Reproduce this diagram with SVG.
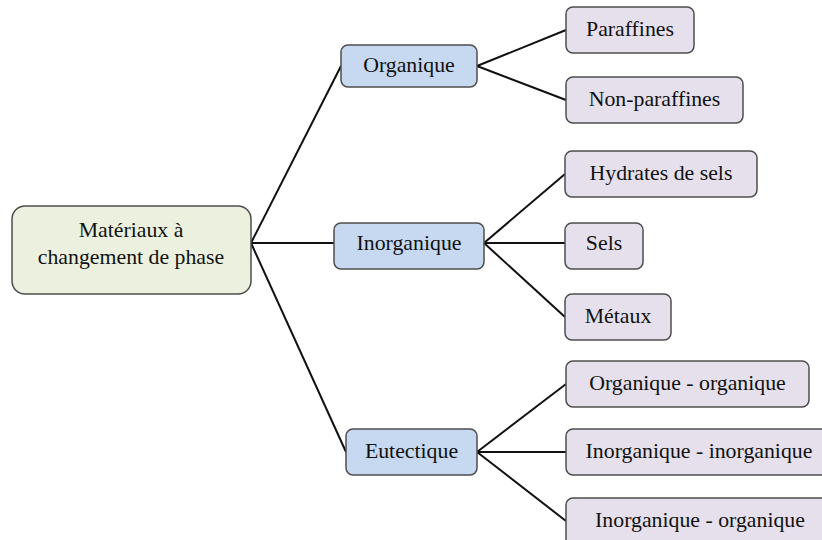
<svg xmlns="http://www.w3.org/2000/svg" width="822" height="540" viewBox="0 0 822 540">
  <style>
    .box { stroke: #4d4d4d; stroke-width: 1.5; }
    .root { fill: #ebf1de; }
    .cat { fill: #c6d9f1; }
    .leaf { fill: #e5e0ec; }
    .lbl { font-family: 'Liberation Serif', 'DejaVu Serif', serif; font-size: 21.8px; fill: #111; text-anchor: middle; }
    .links line { stroke: #111; stroke-width: 2; }
  </style>

  <!-- connectors -->
  <g class="links">
    <line x1="251" y1="243" x2="341" y2="66"/>
    <line x1="251" y1="243" x2="334" y2="243"/>
    <line x1="251" y1="243" x2="346" y2="452"/>
    <line x1="477" y1="66" x2="566" y2="30"/>
    <line x1="477" y1="66" x2="566" y2="100"/>
    <line x1="484" y1="243" x2="565" y2="174"/>
    <line x1="484" y1="243" x2="565" y2="243"/>
    <line x1="484" y1="243" x2="565" y2="317"/>
    <line x1="477" y1="452" x2="566" y2="384"/>
    <line x1="477" y1="452" x2="566" y2="452"/>
    <line x1="477" y1="452" x2="566" y2="521"/>
  </g>

  <g class="lbl" font-family="Liberation Serif, DejaVu Serif, serif">
    <!-- root -->
    <g id="materiaux">
      <rect class="box root" x="12" y="206" width="239" height="88" rx="13"/>
      <text x="131" y="237">Matériaux à</text>
      <text x="131" y="264">changement de phase</text>
    </g>

    <!-- categories -->
    <g id="organique">
      <rect class="box cat" x="341" y="45" width="136" height="42" rx="7"/>
      <text x="409" y="72">Organique</text>
    </g>
    <g id="inorganique">
      <rect class="box cat" x="334" y="223" width="150" height="46" rx="7"/>
      <text x="409" y="250">Inorganique</text>
    </g>
    <g id="eutectique">
      <rect class="box cat" x="346" y="429" width="131" height="46" rx="7"/>
      <text x="411.5" y="458">Eutectique</text>
    </g>

    <!-- leaves -->
    <g id="paraffines">
      <rect class="box leaf" x="566" y="7" width="128" height="46" rx="7"/>
      <text x="630" y="36">Paraffines</text>
    </g>
    <g id="non-paraffines">
      <rect class="box leaf" x="566" y="77" width="177" height="46" rx="7"/>
      <text x="654.5" y="106">Non-paraffines</text>
    </g>
    <g id="hydrates">
      <rect class="box leaf" x="565" y="151" width="192" height="46" rx="7"/>
      <text x="661" y="180">Hydrates de sels</text>
    </g>
    <g id="sels">
      <rect class="box leaf" x="565" y="223" width="78" height="46" rx="7"/>
      <text x="604" y="250">Sels</text>
    </g>
    <g id="metaux">
      <rect class="box leaf" x="565" y="294" width="106" height="46" rx="7"/>
      <text x="618" y="323">Métaux</text>
    </g>
    <g id="org-org">
      <rect class="box leaf" x="566" y="361" width="243" height="46" rx="7"/>
      <text x="687.5" y="390">Organique - organique</text>
    </g>
    <g id="inorg-inorg">
      <rect class="box leaf" x="566" y="429" width="266" height="46" rx="7"/>
      <text x="699" y="458">Inorganique - inorganique</text>
    </g>
    <g id="inorg-org">
      <rect class="box leaf" x="566" y="498" width="268" height="50" rx="7"/>
      <text x="700" y="527">Inorganique - organique</text>
    </g>
  </g>
</svg>
